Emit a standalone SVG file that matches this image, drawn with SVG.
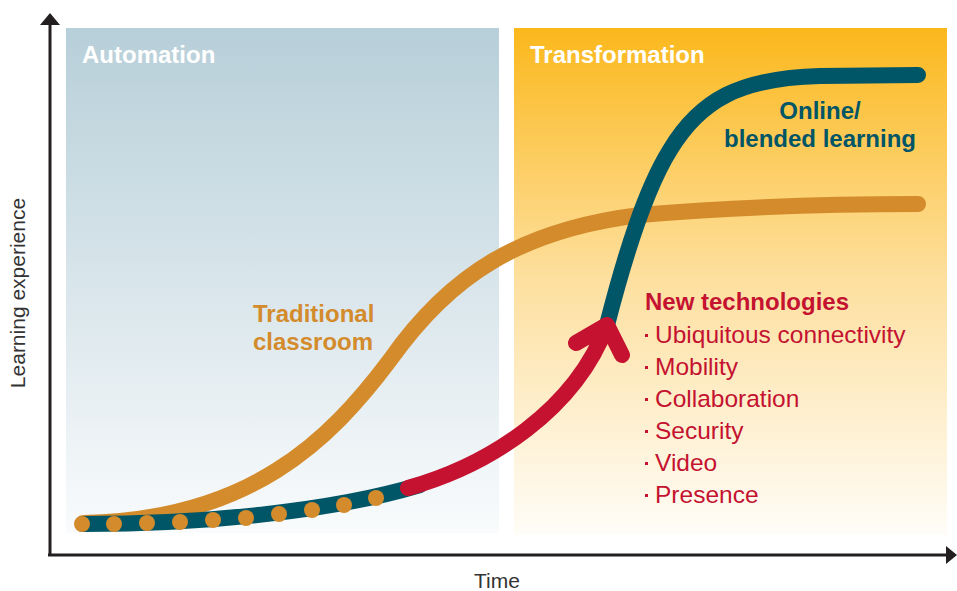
<svg xmlns="http://www.w3.org/2000/svg" width="957" height="591" viewBox="0 0 957 591">
<defs>
<linearGradient id="gBlue" x1="0" y1="0" x2="0" y2="1">
<stop offset="0" stop-color="#b7cfd9"/>
<stop offset="1" stop-color="#f9fbfc"/>
</linearGradient>
<linearGradient id="gOrange" x1="0" y1="0" x2="0" y2="1">
<stop offset="0" stop-color="#fbb81c"/>
<stop offset="0.5" stop-color="#fde0a0"/>
<stop offset="1" stop-color="#fffdf8"/>
</linearGradient>
<style>
.title{font-family:"Liberation Sans",Arial,sans-serif;font-weight:bold;font-size:24px;fill:#ffffff}
.lbl{font-family:"Liberation Sans",Arial,sans-serif;font-weight:bold;font-size:24px}
.item{font-family:"Liberation Sans",Arial,sans-serif;font-size:24.5px;fill:#c41230}
.axis{font-family:"Liberation Sans",Arial,sans-serif;font-size:21px;fill:#333333}
.curve{fill:none;stroke-width:16;stroke-linecap:round}
</style>
</defs>
<g id="automation">
<rect x="66" y="28" width="433" height="505" fill="url(#gBlue)"/>
<text class="title" x="82" y="63">Automation</text>
</g>
<g id="transformation">
<rect x="514" y="28" width="433" height="507" fill="url(#gOrange)"/>
<text class="title" x="530" y="63">Transformation</text>
</g>
<g id="axes">
<line x1="50" y1="22" x2="50" y2="556" stroke="#231f20" stroke-width="3"/>
<polygon points="50,13 40,25 60,25" fill="#231f20"/>
<line x1="48" y1="555" x2="950" y2="555" stroke="#231f20" stroke-width="3"/>
<polygon points="957,555 946,546 946,564" fill="#231f20"/>
<text class="axis" x="497" y="588" text-anchor="middle">Time</text>
<text class="axis" transform="translate(25,293) rotate(-90)" text-anchor="middle">Learning experience</text>
</g>
<g id="connectors">
<path id="traditional" class="curve" stroke="#d38b2c" d="M83,523 C250,520 330,440 390,360 C450,275 520,230 640,215 C760,205 850,204 918,204"/>
<path id="online-low" class="curve" stroke="#005567" d="M83,524 C200,524 330,512 420,485"/>
<path id="online-high" class="curve" stroke="#005567" d="M607,325 C625,255 645,190 670,150 C700,100 740,78 820,76 L918,75"/>
<g fill="#d38b2c">
<circle cx="82" cy="524" r="8"/>
<circle cx="114" cy="524" r="8"/>
<circle cx="147" cy="523" r="8"/>
<circle cx="180" cy="522" r="8"/>
<circle cx="213" cy="520" r="8"/>
<circle cx="246" cy="518" r="8"/>
<circle cx="279" cy="514" r="8"/>
<circle cx="312" cy="510" r="8"/>
<circle cx="344" cy="505" r="8"/>
<circle cx="376" cy="498" r="8"/>
</g>
<path id="newtech" class="curve" stroke="#c41230" stroke-linejoin="round" d="M408,488 C490,465 575,410 607,325 M576,343 L607,325 L622,355"/>
</g>
<g id="traditional-label" class="lbl" fill="#d38b2c">
<text x="253" y="322">Traditional</text>
<text x="253" y="350">classroom</text>
</g>
<g id="online-label" class="lbl" fill="#005567" text-anchor="middle">
<text x="820" y="119">Online/</text>
<text x="820" y="147">blended learning</text>
</g>
<g id="newtech-label">
<text class="lbl" x="645" y="310" fill="#c41230" font-size="23px">New technologies</text>
<g fill="#c41230">
<rect x="645" y="334" width="3" height="3"/>
<rect x="645" y="366" width="3" height="3"/>
<rect x="645" y="398" width="3" height="3"/>
<rect x="645" y="430" width="3" height="3"/>
<rect x="645" y="462" width="3" height="3"/>
<rect x="645" y="494" width="3" height="3"/>
</g>
<text class="item" x="655" y="343">Ubiquitous connectivity</text>
<text class="item" x="655" y="375">Mobility</text>
<text class="item" x="655" y="407">Collaboration</text>
<text class="item" x="655" y="439">Security</text>
<text class="item" x="655" y="471">Video</text>
<text class="item" x="655" y="503">Presence</text>
</g>
</svg>
